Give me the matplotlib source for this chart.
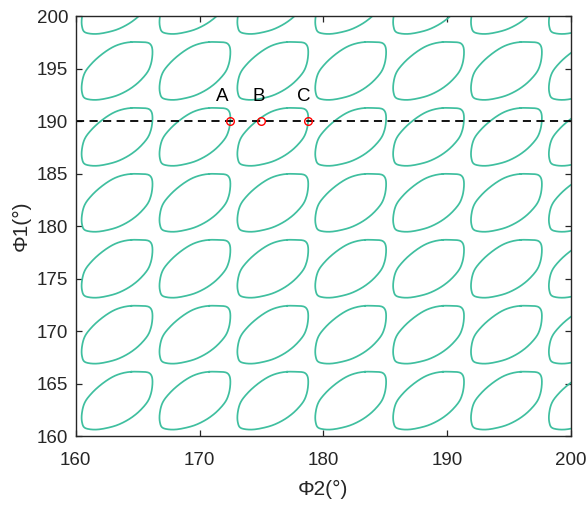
import numpy as np
import matplotlib
matplotlib.use("Agg")
import matplotlib.pyplot as plt

plt.rcParams['font.family'] = ['Liberation Sans', 'DejaVu Sans']

# ---- data ----
# one closed contour loop, normalised to its bounding box (u right, v up)
loop_u = [0.700, 0.819, 0.914, 0.962, 0.990, 1.0, 0.995, 0.976, 0.938, 0.867, 0.771,
          0.652, 0.510, 0.367, 0.224, 0.105, 0.033, 0.005, 0.0, 0.019, 0.057, 0.129,
          0.224, 0.343, 0.462, 0.581]
loop_v = [1.0, 1.0, 0.994, 0.971, 0.920, 0.840, 0.726, 0.611, 0.497, 0.383, 0.269,
          0.166, 0.080, 0.029, 0.0, 0.006, 0.040, 0.126, 0.240, 0.383, 0.497, 0.611,
          0.726, 0.840, 0.926, 0.977]
loop_width = 5.72     # degrees (Φ2)
loop_height = 5.50    # degrees (Φ1)
# lower-left corners of the loops' bounding boxes
col_left = [160.48, 166.77, 173.06, 179.35, 185.64, 191.93, 198.22]
row_bottom = [160.62, 166.90, 173.18, 179.46, 185.74, 192.02, 198.30]

# marked points
pt_labels = ['A', 'B', 'C']
pt_phi2 = [172.5, 174.95, 178.8]
pt_phi1 = [190.0, 190.0, 190.0]
line_phi1 = 190.0

xticks = [160, 170, 180, 190, 200]
yticks = [160, 165, 170, 175, 180, 185, 190, 195, 200]

# ---- drawing ----
def smooth_closed(u, v, n=12):
    """Catmull-Rom rendering of a closed polyline."""
    P = np.column_stack([u, v])
    N = len(P)
    out = []
    t = np.linspace(0, 1, n, endpoint=False)[:, None]
    for i in range(N):
        p0, p1, p2, p3 = P[(i - 1) % N], P[i], P[(i + 1) % N], P[(i + 2) % N]
        seg = 0.5 * ((2 * p1) + (-p0 + p2) * t + (2 * p0 - 5 * p1 + 4 * p2 - p3) * t**2
                     + (-p0 + 3 * p1 - 3 * p2 + p3) * t**3)
        out.append(seg)
    out = np.vstack(out + [out[0][:1]])
    return out[:, 0], out[:, 1]

su, sv = smooth_closed(loop_u, loop_v)

fig = plt.figure(figsize=(5.87, 5.05), dpi=100)
ax = fig.add_axes([0.129, 0.1366, 0.8437, 0.8317])

teal = '#3fbf9f'
for x0 in col_left:
    for y0 in row_bottom:
        ax.plot(x0 + su * loop_width, y0 + sv * loop_height, color=teal, lw=1.25,
                solid_joinstyle='round')

ax.axhline(line_phi1, color='black', lw=1.3, ls=(0, (4.5, 3)))
ax.plot(pt_phi2, pt_phi1, 'o', mfc='none', mec='red', ms=5.5, mew=1.0)
label_dx = [-0.7, -0.15, -0.4]
for lab, x, y, dx in zip(pt_labels, pt_phi2, pt_phi1, label_dx):
    ax.text(x + dx, y + 2.3, lab, ha='center', va='center', fontsize=13.5)

ax.set_xlim(160, 200)
ax.set_ylim(160, 200)
ax.set_xticks(xticks)
ax.set_yticks(yticks)
ax.tick_params(direction='in', length=4, width=0.9, labelsize=13.5,
               top=True, right=True, colors='#262626', labelcolor='#262626')
ax.tick_params(axis='x', pad=11.5)
ax.tick_params(axis='y', pad=5.5)
for s in ax.spines.values():
    s.set_linewidth(1.0)
    s.set_color('#262626')
ax.set_xlabel('Φ2(°)', fontsize=15, color='#262626', labelpad=8)
ax.set_ylabel('Φ1(°)', fontsize=15, color='#262626', labelpad=4)

fig.savefig('out.png', dpi=100)
